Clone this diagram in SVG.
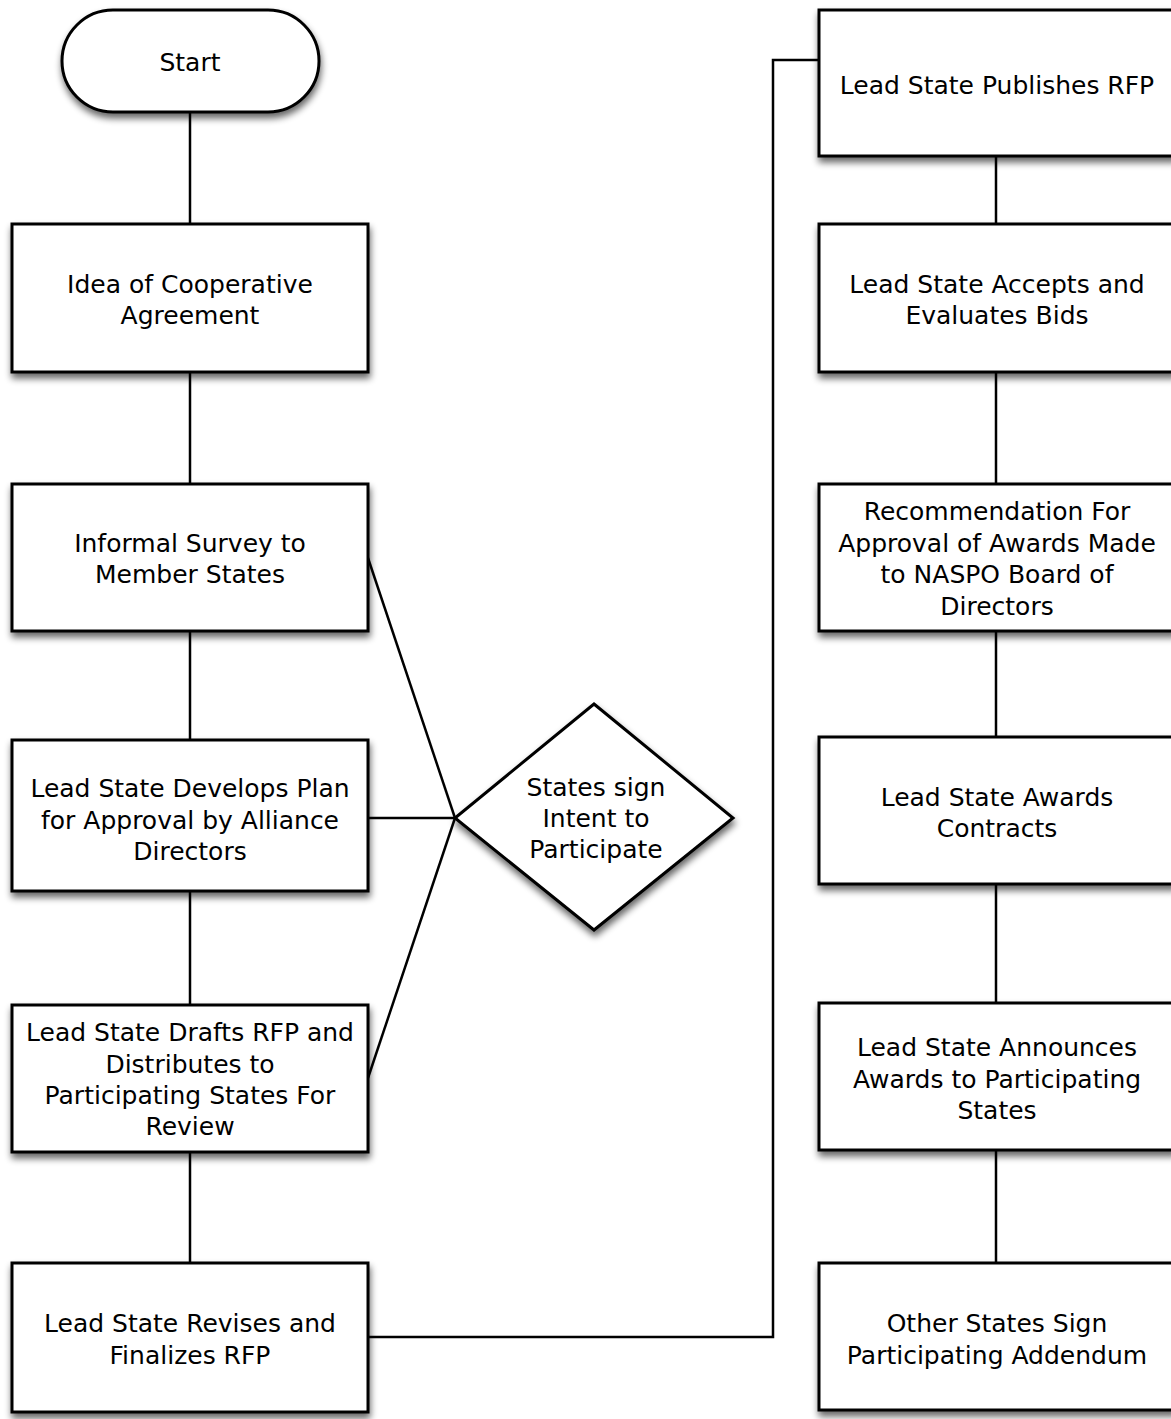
<svg xmlns="http://www.w3.org/2000/svg" width="1171" height="1419" viewBox="0 0 1171 1419">
<defs>
<filter id="sh" x="-10%" y="-10%" width="130%" height="130%">
<feGaussianBlur in="SourceAlpha" stdDeviation="3.5"/>
<feOffset dx="1" dy="5" result="b"/>
<feComponentTransfer><feFuncA type="linear" slope="0.6"/></feComponentTransfer>
<feMerge><feMergeNode/><feMergeNode in="SourceGraphic"/></feMerge>
</filter>
</defs>
<style>
.n{fill:#fff;stroke:#000;stroke-width:3;filter:url(#sh)}
.t{font-family:"DejaVu Sans","Verdana",sans-serif;font-size:25px;fill:#000;text-anchor:middle}
.c{fill:none;stroke:#000;stroke-width:2.5}
</style>
<rect width="1171" height="1419" fill="#fff"/>
<g id="connectors">
<line class="c" x1="190" y1="112" x2="190" y2="224"/>
<line class="c" x1="190" y1="372" x2="190" y2="484"/>
<line class="c" x1="190" y1="631" x2="190" y2="740"/>
<line class="c" x1="190" y1="891" x2="190" y2="1005"/>
<line class="c" x1="190" y1="1152" x2="190" y2="1263"/>
<line class="c" x1="368" y1="558" x2="455" y2="818"/>
<line class="c" x1="368" y1="818" x2="455" y2="818"/>
<line class="c" x1="368" y1="1078" x2="455" y2="818"/>
<polyline class="c" points="368,1337 773,1337 773,60 819,60"/>
<line class="c" x1="996" y1="156" x2="996" y2="224"/>
<line class="c" x1="996" y1="372" x2="996" y2="484"/>
<line class="c" x1="996" y1="631" x2="996" y2="737"/>
<line class="c" x1="996" y1="884" x2="996" y2="1003"/>
<line class="c" x1="996" y1="1150" x2="996" y2="1263"/>
</g>
<g id="start">
<rect class="n" x="62" y="10" width="257" height="102" rx="51"/>
<text class="t" x="190" y="71">Start</text>
</g>
<g id="idea">
<rect class="n" x="12" y="224" width="356" height="148"/>
<text class="t" x="190" y="293">Idea of Cooperative</text>
<text class="t" x="190" y="324">Agreement</text>
</g>
<g id="survey">
<rect class="n" x="12" y="484" width="356" height="147"/>
<text class="t" x="190" y="552">Informal Survey to</text>
<text class="t" x="190" y="583">Member States</text>
</g>
<g id="develops">
<rect class="n" x="12" y="740" width="356" height="151"/>
<text class="t" x="190" y="797">Lead State Develops Plan</text>
<text class="t" x="190" y="829">for Approval by Alliance</text>
<text class="t" x="190" y="860">Directors</text>
</g>
<g id="drafts">
<rect class="n" x="12" y="1005" width="356" height="147"/>
<text class="t" x="190" y="1041">Lead State Drafts RFP and</text>
<text class="t" x="190" y="1073">Distributes to</text>
<text class="t" x="190" y="1104">Participating States For</text>
<text class="t" x="190" y="1135">Review</text>
</g>
<g id="revises">
<rect class="n" x="12" y="1263" width="356" height="149"/>
<text class="t" x="190" y="1332">Lead State Revises and</text>
<text class="t" x="190" y="1364">Finalizes RFP</text>
</g>
<g id="intent">
<polygon class="n" points="594,704 733,818 594,930 455,818"/>
<text class="t" x="596" y="796">States sign</text>
<text class="t" x="596" y="827">Intent to</text>
<text class="t" x="596" y="858">Participate</text>
</g>
<g id="publishes">
<rect class="n" x="819" y="10" width="356" height="146"/>
<text class="t" x="997" y="94">Lead State Publishes RFP</text>
</g>
<g id="accepts">
<rect class="n" x="819" y="224" width="356" height="148"/>
<text class="t" x="997" y="293">Lead State Accepts and</text>
<text class="t" x="997" y="324">Evaluates Bids</text>
</g>
<g id="recommendation">
<rect class="n" x="819" y="484" width="356" height="147"/>
<text class="t" x="997" y="520">Recommendation For</text>
<text class="t" x="997" y="552">Approval of Awards Made</text>
<text class="t" x="997" y="583">to NASPO Board of</text>
<text class="t" x="997" y="615">Directors</text>
</g>
<g id="awards">
<rect class="n" x="819" y="737" width="356" height="147"/>
<text class="t" x="997" y="806">Lead State Awards</text>
<text class="t" x="997" y="837">Contracts</text>
</g>
<g id="announces">
<rect class="n" x="819" y="1003" width="356" height="147"/>
<text class="t" x="997" y="1056">Lead State Announces</text>
<text class="t" x="997" y="1088">Awards to Participating</text>
<text class="t" x="997" y="1119">States</text>
</g>
<g id="addendum">
<rect class="n" x="819" y="1263" width="356" height="147"/>
<text class="t" x="997" y="1332">Other States Sign</text>
<text class="t" x="997" y="1364">Participating Addendum</text>
</g>
</svg>
